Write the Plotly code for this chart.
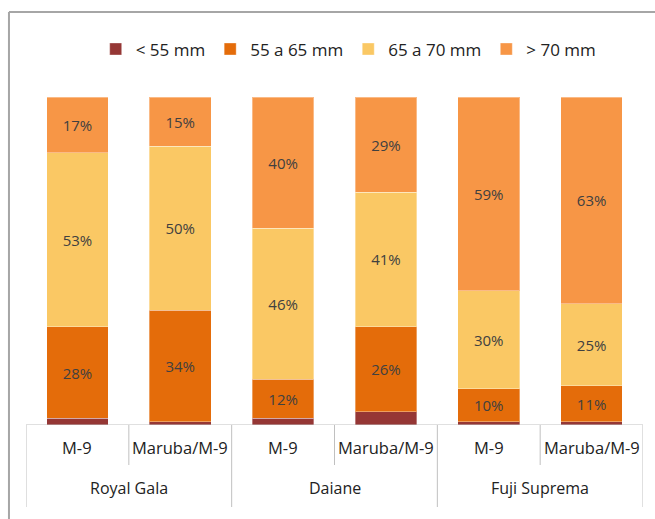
import plotly.graph_objects as go

cultivars = ["Royal Gala", "Royal Gala", "Daiane", "Daiane", "Fuji Suprema", "Fuji Suprema"]
rootstocks = ["M-9", "Maruba/M-9", "M-9", "Maruba/M-9", "M-9", "Maruba/M-9"]
group_names = ["Royal Gala", "Daiane", "Fuji Suprema"]

lt55 = [2, 1, 2, 4, 1, 1]
r55_65 = [28, 34, 12, 26, 10, 11]
r65_70 = [53, 50, 46, 41, 30, 25]
gt70 = [17, 15, 40, 29, 59, 63]

series = [
    ("< 55 mm", lt55, "#953735", False),
    ("55 a 65 mm", r55_65, "#E46C0A", True),
    ("65 a 70 mm", r65_70, "#FAC864", True),
    ("> 70 mm", gt70, "#F79646", True),
]

FONT = "Open Sans"
xs = list(range(len(rootstocks)))

fig = go.Figure()
for name, vals, color, show in series:
    fig.add_trace(go.Bar(
        x=xs, y=vals, name=name, width=0.6,
        marker=dict(color=color, line=dict(color="rgba(255,255,255,0.35)", width=1)),
        text=[f"{v}%" for v in vals] if show else None,
        textposition="inside" if show else "none",
        insidetextanchor="middle",
        constraintext="none",
        textfont=dict(family=FONT, size=15, color="#404040"),
        hoverinfo="skip",
    ))

shapes = []
axis_color = "#C0C0C0"
shapes.append(dict(type="line", xref="x", yref="y", x0=-0.5, x1=len(xs) - 0.5, y0=0, y1=0,
                   line=dict(color=axis_color, width=1)))
n = len(xs)
for i in range(n + 1):
    b = i - 0.5
    if i == 0 or i == n or cultivars[i] != cultivars[i - 1]:
        y_end = -0.25
    else:
        y_end = -0.122
    shapes.append(dict(type="line", xref="x", yref="paper", x0=b, x1=b, y0=0, y1=y_end,
                       line=dict(color=axis_color, width=1)))
shapes.append(dict(type="line", xref="paper", yref="paper", x0=-0.0276, x1=-0.0276, y0=1.259, y1=-0.35,
                   line=dict(color="#A6A6A6", width=2)))
shapes.append(dict(type="line", xref="paper", yref="paper", x0=-0.0276, x1=1.1, y0=1.259, y1=1.259,
                   line=dict(color="#A6A6A6", width=2)))

annotations = []
for i, r in enumerate(rootstocks):
    annotations.append(dict(x=i, y=-0.070, xref="x", yref="paper", text=r, showarrow=False,
                            font=dict(family=FONT, size=16.5, color="#222222"),
                            xanchor="center", yanchor="middle"))
for g in group_names:
    idx = [i for i, c in enumerate(cultivars) if c == g]
    annotations.append(dict(x=sum(idx) / len(idx), y=-0.192, xref="x", yref="paper", text=g,
                            showarrow=False, font=dict(family=FONT, size=16, color="#222222"),
                            xanchor="center", yanchor="middle"))

fig.update_layout(
    barmode="stack",
    width=655, height=519,
    margin=dict(l=26, r=12, t=97, b=94),
    paper_bgcolor="white", plot_bgcolor="white",
    xaxis=dict(range=[-0.5, n - 0.5], showticklabels=False, showgrid=False, zeroline=False,
               showline=False, ticks=""),
    yaxis=dict(range=[0, 100], visible=False, showgrid=False, zeroline=False),
    showlegend=True,
    legend=dict(orientation="h", x=0.523, xanchor="center", y=1.145, yanchor="middle",
                font=dict(family=FONT, size=17, color="#222222"), traceorder="normal",
                itemclick=False, itemdoubleclick=False, itemwidth=30),
    shapes=shapes,
    annotations=annotations,
    bargap=0.4,
)

fig.write_html("out.html")
